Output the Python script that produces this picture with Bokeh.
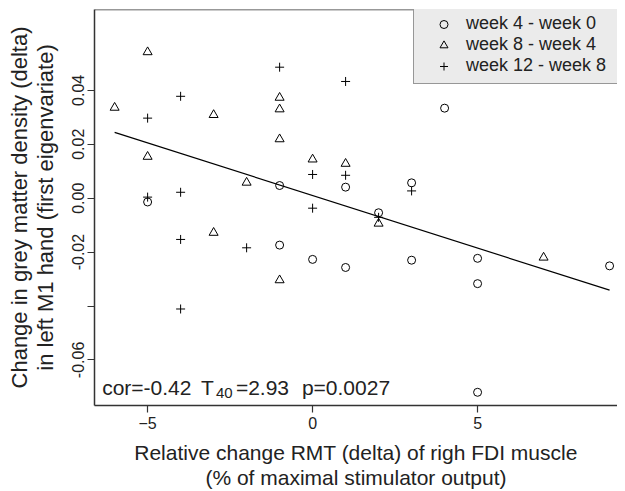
from bokeh.plotting import figure
from bokeh.models import Range1d, FixedTicker, Legend, LegendItem, Label, Span
from bokeh.embed import file_html
from bokeh.resources import INLINE

# ---- data ----
x_w4 = [-5, -1, -1, 0, 1, 1, 2, 3, 3, 4, 5, 5, 5, 9]
y_w4 = [-0.0014, 0.0047, -0.0174, -0.0227, -0.0257, 0.0041, -0.0054, 0.0057,
        -0.0230, 0.0334, -0.0223, -0.0317, -0.0720, -0.0251]

x_w8 = [-6, -5, -5, -3, -3, -2, -1, -1, -1, -1, 0, 1, 2, 7]
y_w8 = [0.0336, 0.0542, 0.0154, 0.0309, -0.0128, 0.0058, 0.0373, 0.0330,
        0.0219, -0.0304, 0.0144, 0.0128, -0.0094, -0.0220]

x_w12 = [-5, -5, -4, -4, -4, -4, -2, -1, 0, 0, 1, 1, 2, 3]
y_w12 = [0.0297, 0.0004, 0.0378, 0.0022, -0.0153, -0.0411, -0.0184, 0.0486,
         -0.0037, 0.0088, 0.0433, 0.0085, -0.0071, 0.0027]

series_labels = ["week 4 - week 0", "week 8 - week 4", "week 12 - week 8"]

fit_intercept = 0.0010
fit_slope = -0.0039
fit_x = [-6, 9]

x_ticks = [-5, 0, 5]
y_ticks = [-0.06, -0.04, -0.02, 0, 0.02, 0.04]
y_tick_labels = ["-0.06", "", "-0.02", "0.00", "0.02", "0.04"]

stat_cor = "cor=-0.42"
stat_t = "T"
stat_df = "40"
stat_tval = "=2.93"
stat_p = "p=0.0027"

FONT = "Liberation Sans"
TXT = "#222222"

p = figure(width=617, height=491, output_backend="svg", toolbar_location=None,
           x_range=Range1d(-6.61, 9.24), y_range=Range1d(-0.0769, 0.0700),
           min_border_left=94, min_border_top=9, min_border_right=0, min_border_bottom=85)
p.grid.visible = False
p.outline_line_color = None
p.background_fill_color = "white"

# regression line
fit_y = [fit_intercept + fit_slope * v for v in fit_x]
p.line(fit_x, fit_y, line_color="black", line_width=1.2)

r1 = p.scatter(x_w4, y_w4, marker="circle", size=8, fill_color=None,
               line_color="black", line_width=1)
r2 = p.scatter(x_w8, y_w8, marker="triangle", size=9, fill_color=None,
               line_color="black", line_width=1)
r3 = p.scatter(x_w12, y_w12, marker="cross", size=9, fill_color=None,
               line_color="black", line_width=1)

# axes
for ax in (p.xaxis[0], p.yaxis[0]):
    ax.axis_line_color = "#333333"
    ax.axis_line_width = 1.5
    ax.major_tick_line_color = "#333333"
    ax.major_tick_line_width = 1.2
    ax.major_tick_out = 7
    ax.major_tick_in = 0
    ax.minor_tick_line_color = None
    ax.major_label_text_font = FONT
    ax.major_label_text_font_size = "16px"
    ax.major_label_text_color = TXT
    ax.axis_label_text_font = FONT
    ax.axis_label_text_font_style = "normal"
    ax.axis_label_text_color = TXT

p.xaxis.ticker = FixedTicker(ticks=x_ticks)
p.xaxis.major_label_standoff = 4
p.xaxis.axis_label = "Relative change RMT (delta) of righ FDI muscle\n(% of maximal stimulator output)"
p.xaxis.axis_label_text_font_size = "21px"
p.xaxis.axis_label_text_line_height = 1.1
p.xaxis.axis_label_standoff = 9

p.yaxis.ticker = FixedTicker(ticks=y_ticks)
overrides = {}
for t, lab in zip(y_ticks, y_tick_labels):
    overrides[t] = lab
p.yaxis.major_label_overrides = overrides
p.yaxis.major_label_orientation = "vertical"
p.yaxis.major_label_standoff = 3
p.yaxis.axis_label = "Change in grey matter density (delta)\nin left M1 hand (first eigenvariate)"
p.yaxis.axis_label_text_font_size = "22px"
p.yaxis.axis_label_text_line_height = 1.02
p.yaxis.axis_label_standoff = 12

# top border of the box
p.add_layout(Span(location=0.0700, dimension="width", line_color="#333333", line_width=1.5))

# legend
legend = Legend(items=[LegendItem(label=series_labels[0], renderers=[r1]),
                       LegendItem(label=series_labels[1], renderers=[r2]),
                       LegendItem(label=series_labels[2], renderers=[r3])],
                location=(319, 321), padding=7, spacing=0, margin=0,
                glyph_height=20, glyph_width=45, label_height=20, label_width=200,
                label_standoff=0,
                label_text_font=FONT, label_text_font_size="18px", label_text_color=TXT,
                background_fill_color="#ebebeb", background_fill_alpha=1,
                border_line_color="#444444", border_line_width=1.5)
p.add_layout(legend)

# statistics annotation
def px2x(px):
    return (px - 312.2) / 33.0

base_y = -0.0704
sub_y = -0.0722
for txt, px, yy, fs in [(stat_cor, 101.7, base_y, "21px"),
                        (stat_t, 200.5, base_y, "21px"),
                        (stat_df, 215.5, sub_y, "15px"),
                        (stat_tval, 235.5, base_y, "21px"),
                        (stat_p, 301.5, base_y, "21px")]:
    p.add_layout(Label(x=px2x(px), y=yy, text=txt, text_font=FONT, text_font_size=fs,
                       text_color=TXT, text_baseline="alphabetic", text_align="left"))

open("out.html", "w").write(file_html(p, INLINE))
